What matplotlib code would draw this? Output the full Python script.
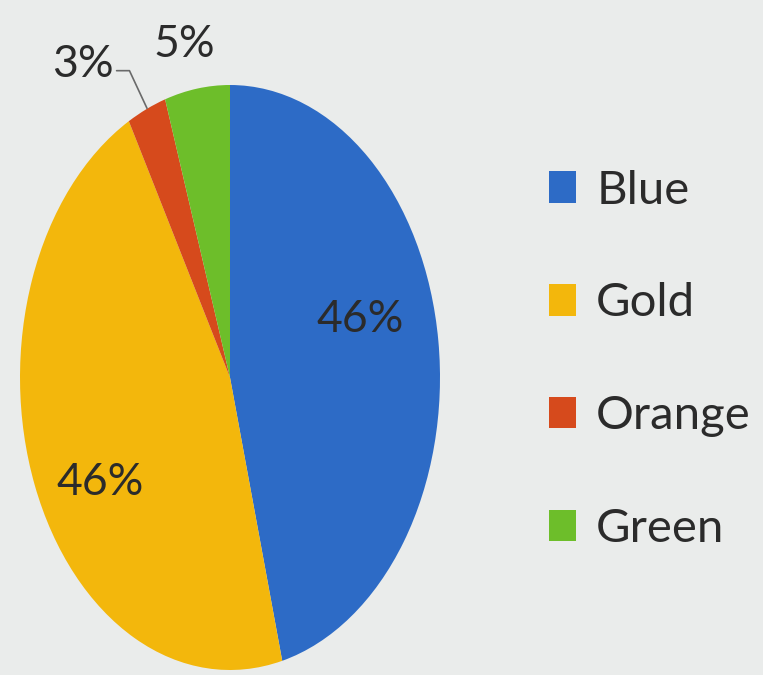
import matplotlib.pyplot as plt

labels = ['Blue', 'Gold', 'Orange', 'Green']
shares = [46, 46, 3, 5]
colors = ['#2D6BC6', '#F3B70C', '#D64A1C', '#6DBE2A']
pct_text = ['46%', '46%', '3%', '5%']

plt.rcParams['font.family'] = ['Lato', 'DejaVu Sans']

fig = plt.figure(figsize=(7.63, 6.75), dpi=100)
fig.patch.set_facecolor('#EAECEB')

# axes box is stretched to mimic the photo's oval pie
ax = fig.add_axes([20 / 763, 5 / 675, 420 / 763, 585 / 675])
wedges, _ = ax.pie(shares, colors=colors, startangle=90, counterclock=False,
                   radius=1, wedgeprops=dict(linewidth=0))
ax.set_aspect('auto')
ax.set_xlim(-1, 1)
ax.set_ylim(-1, 1)
ax.axis('off')

txt = dict(fontsize=32, color='#2B2B2B', ha='center', va='center')
ax.text(0.62, 0.20, pct_text[0], **txt)
ax.text(-0.62, -0.36, pct_text[1], **txt)
ax.text(-0.22, 1.14, pct_text[3], **txt)
ax.annotate(pct_text[2], xy=(-0.395, 0.92), xytext=(-0.70, 1.07),
            textcoords='data', annotation_clip=False, **txt,
            arrowprops=dict(arrowstyle='-', color='#6A6A6A', lw=1.2,
                            shrinkA=0, shrinkB=0,
                            connectionstyle='angle,angleA=0,angleB=115,rad=0',
                            relpos=(1.0, 0.35)))

leg = fig.legend(wedges, labels, loc='upper left', bbox_to_anchor=(506 / 763, 1 - 127 / 675),
                 frameon=False, fontsize=34, handlelength=0.58, handleheight=0.65,
                 handletextpad=0.43, labelspacing=1.5, labelcolor='#2B2B2B')

fig.savefig('out.png', dpi=100, facecolor=fig.get_facecolor())
